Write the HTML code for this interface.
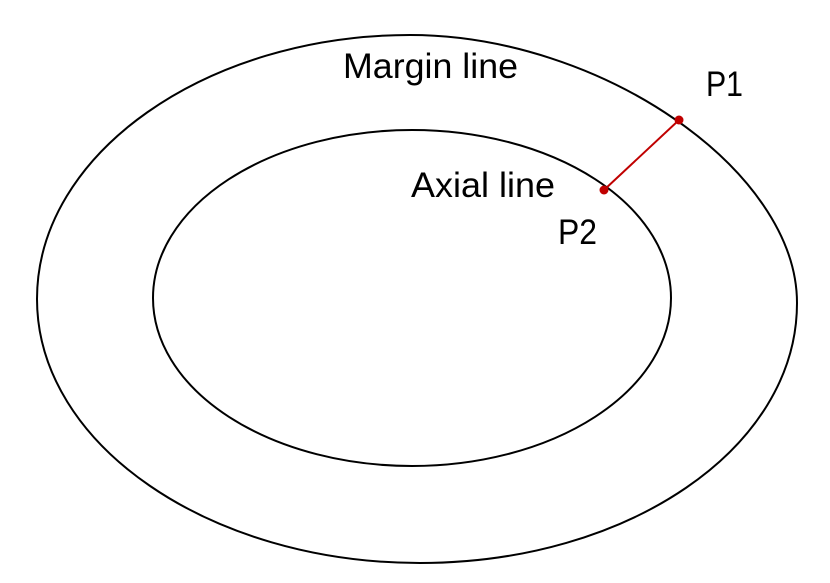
<!DOCTYPE html>
<html>
<head>
<meta charset="utf-8">
<style>
html,body{margin:0;padding:0;background:#fff;}
svg{display:block;}
text{font-family:"Liberation Sans",sans-serif;font-size:35px;fill:#000;}
</style>
</head>
<body>
<svg width="830" height="583" viewBox="0 0 830 583">
  <path fill="none" stroke="#000" stroke-width="2"
    d="M37,299 C37,153 207,35 410,35 C600,35 797,170 797,303 C797,449 627,563 420,563 C210,563 37,445 37,299 Z"/>
  <ellipse cx="412" cy="298" rx="259" ry="168" fill="none" stroke="#000" stroke-width="2"/>
  <line x1="679" y1="120" x2="604" y2="190" stroke="#c00000" stroke-width="2"/>
  <circle cx="679" cy="120" r="4.5" fill="#c00000"/>
  <circle cx="604" cy="190" r="4.5" fill="#c00000"/>
  <text x="343" y="78" textLength="175" lengthAdjust="spacingAndGlyphs">Margin line</text>
  <text x="706" y="96" textLength="37" lengthAdjust="spacingAndGlyphs">P1</text>
  <text x="411" y="197" textLength="144" lengthAdjust="spacingAndGlyphs">Axial line</text>
  <text x="558" y="244" textLength="39" lengthAdjust="spacingAndGlyphs">P2</text>
</svg>
</body>
</html>
